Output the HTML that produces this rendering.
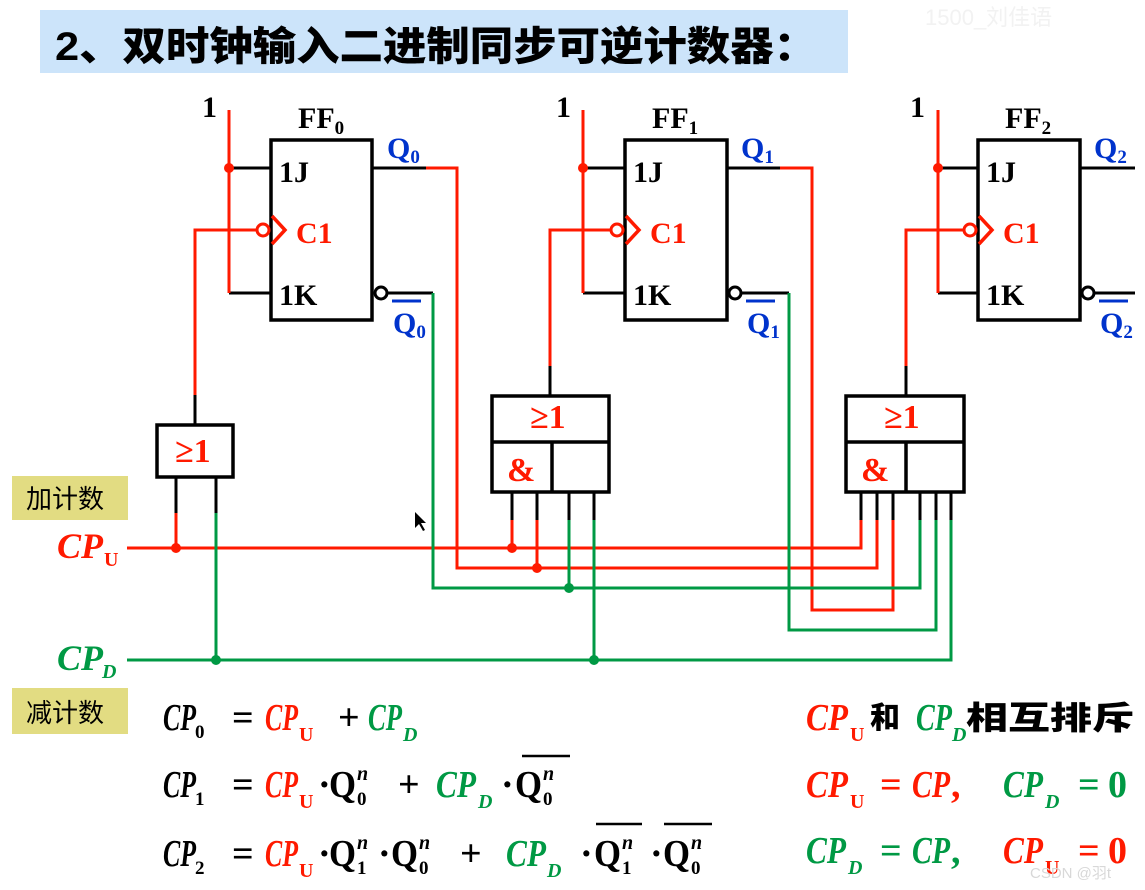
<!DOCTYPE html>
<html><head><meta charset="utf-8"><style>
html,body{margin:0;padding:0;background:#fff;width:1145px;height:890px;overflow:hidden}
svg{display:block}
.s{font-family:"Liberation Serif",serif;font-weight:bold}
.i{font-style:italic}
.cn{font-family:"Liberation Sans","Noto Sans CJK SC",sans-serif}
</style></head><body>
<svg width="1145" height="890" viewBox="0 0 1145 890" xmlns="http://www.w3.org/2000/svg">
<rect x="40" y="10" width="808" height="63" fill="#cce4fa"/>
<text x="55" y="60" class="cn" font-size="40" font-weight="900" textLength="762" lengthAdjust="spacingAndGlyphs">2、双时钟输入二进制同步可逆计数器：</text>
<text x="925" y="25" class="cn" font-size="22" fill="#f2f2f2">1500_刘佳语</text>

<g fill="none" stroke-width="3.5">
<rect x="271" y="140" width="101" height="180" stroke="#000"/>
<rect x="625" y="140" width="102" height="180" stroke="#000"/>
<rect x="978" y="140" width="102" height="180" stroke="#000"/>
</g>
<g class="s" font-size="30">
<text x="202" y="117">1</text><text x="556" y="117">1</text><text x="910" y="117">1</text>
<text x="298" y="128">FF<tspan font-size="19" dy="6">0</tspan></text>
<text x="652" y="128">FF<tspan font-size="19" dy="6">1</tspan></text>
<text x="1005" y="128">FF<tspan font-size="19" dy="6">2</tspan></text>
<text x="279" y="182">1J</text><text x="633" y="182">1J</text><text x="986" y="182">1J</text>
<text x="279" y="305">1K</text><text x="633" y="305">1K</text><text x="986" y="305">1K</text>
<g fill="#ff1a00"><text x="296" y="243">C1</text><text x="650" y="243">C1</text><text x="1003" y="243">C1</text></g>
<g fill="#0033cc">
<text x="387" y="158">Q<tspan font-size="19" dy="5">0</tspan></text>
<text x="741" y="158">Q<tspan font-size="19" dy="5">1</tspan></text>
<text x="1094" y="158">Q<tspan font-size="19" dy="5">2</tspan></text>
<text x="393" y="333">Q<tspan font-size="19" dy="5">0</tspan></text>
<text x="747" y="333">Q<tspan font-size="19" dy="5">1</tspan></text>
<text x="1100" y="333">Q<tspan font-size="19" dy="5">2</tspan></text>
</g>
</g>
<g stroke="#0033cc" stroke-width="3"><line x1="392" y1="301" x2="421" y2="301"/><line x1="746" y1="301" x2="775" y2="301"/><line x1="1099" y1="301" x2="1128" y2="301"/></g>

<g fill="none" stroke-width="3">
<g stroke="#000">
<line x1="229" y1="168" x2="271" y2="168"/><line x1="229" y1="293" x2="271" y2="293"/><line x1="229" y1="230" x2="257" y2="230"/>
<line x1="583" y1="168" x2="625" y2="168"/><line x1="583" y1="293" x2="625" y2="293"/><line x1="583" y1="230" x2="611" y2="230"/>
<line x1="938" y1="168" x2="978" y2="168"/><line x1="938" y1="293" x2="978" y2="293"/><line x1="938" y1="230" x2="964" y2="230"/>
<line x1="372" y1="168" x2="426" y2="168"/><line x1="387" y1="293" x2="433" y2="293"/>
<line x1="727" y1="168" x2="780" y2="168"/><line x1="741" y1="293" x2="789" y2="293"/>
<line x1="1080" y1="168" x2="1135" y2="168"/><line x1="1094" y1="293" x2="1135" y2="293"/>
<circle cx="381" cy="293" r="6"/><circle cx="735" cy="293" r="6"/><circle cx="1088" cy="293" r="6"/>
</g>
<g stroke="#ff1a00">
<line x1="229" y1="110" x2="229" y2="293"/><line x1="583" y1="110" x2="583" y2="293"/><line x1="938" y1="110" x2="938" y2="293"/>
<circle cx="263" cy="230" r="6"/><circle cx="617" cy="230" r="6"/><circle cx="970" cy="230" r="6"/>
<polyline points="272,216 285,230 272,244" stroke-width="3.5"/><polyline points="626,216 639,230 626,244" stroke-width="3.5"/><polyline points="979,216 992,230 979,244" stroke-width="3.5"/>
<polyline points="257,230 195,230 195,395"/><polyline points="611,230 550,230 550,366"/><polyline points="964,230 906,230 906,366"/>
</g>
</g>
<g fill="#ff1a00"><circle cx="229" cy="168" r="5"/><circle cx="583" cy="168" r="5"/><circle cx="938" cy="168" r="5"/></g>

<g fill="none" stroke="#000" stroke-width="3.5">
<rect x="157" y="425" width="76" height="52"/>
<rect x="492" y="396" width="117" height="96"/><line x1="492" y1="442" x2="609" y2="442"/><line x1="552" y1="442" x2="552" y2="492"/>
<rect x="846" y="396" width="118" height="96"/><line x1="846" y1="442" x2="964" y2="442"/><line x1="906" y1="442" x2="906" y2="492"/>
</g>
<g stroke="#000" stroke-width="3">
<line x1="195" y1="395" x2="195" y2="425"/><line x1="550" y1="366" x2="550" y2="396"/><line x1="906" y1="366" x2="906" y2="396"/>
<line x1="176" y1="477" x2="176" y2="513"/><line x1="216" y1="477" x2="216" y2="513"/>
<line x1="512" y1="492" x2="512" y2="520"/><line x1="537" y1="492" x2="537" y2="520"/><line x1="569" y1="492" x2="569" y2="520"/><line x1="594" y1="492" x2="594" y2="520"/>
<line x1="861" y1="492" x2="861" y2="520"/><line x1="877" y1="492" x2="877" y2="520"/><line x1="893" y1="492" x2="893" y2="520"/><line x1="920" y1="492" x2="920" y2="520"/><line x1="936" y1="492" x2="936" y2="520"/><line x1="951" y1="492" x2="951" y2="520"/>
</g>
<g class="s" font-size="34" fill="#ff1a00">
<text x="175" y="462">≥1</text><text x="530" y="428">≥1</text><text x="884" y="428">≥1</text>
<text x="507" y="481">&amp;</text><text x="861" y="481">&amp;</text>
</g>

<g fill="none" stroke-width="3">
<g stroke="#ff1a00">
<polyline points="127,548 861,548 861,520"/>
<line x1="176" y1="513" x2="176" y2="548"/><line x1="512" y1="520" x2="512" y2="548"/><line x1="537" y1="520" x2="537" y2="568"/>
<polyline points="426,168 457,168 457,568 877,568 877,520"/>
<polyline points="780,168 812,168 812,610 893,610 893,520"/>
</g>
<g stroke="#009944">
<polyline points="127,660 951,660 951,520"/>
<line x1="216" y1="513" x2="216" y2="660"/><line x1="594" y1="520" x2="594" y2="660"/><line x1="569" y1="520" x2="569" y2="588"/>
<polyline points="433,293 433,588 920,588 920,520"/>
<polyline points="789,293 789,630 936,630 936,520"/>
</g>
</g>
<g fill="#ff1a00"><circle cx="176" cy="548" r="5"/><circle cx="512" cy="548" r="5"/><circle cx="537" cy="568" r="5"/></g>
<g fill="#009944"><circle cx="216" cy="660" r="5"/><circle cx="569" cy="588" r="5"/><circle cx="594" cy="660" r="5"/></g>
<path d="M415 512 L415 528 L419 524 L423 531 L425 530 L421 523 L426 523 Z" fill="#000"/>

<rect x="12" y="476" width="116" height="44" fill="#e2dc82"/>
<text x="26" y="508" class="cn" font-size="26">加计数</text>
<rect x="12" y="688" width="116" height="46" fill="#e2dc82"/>
<text x="26" y="722" class="cn" font-size="26">减计数</text>
<text x="57" y="558" class="s i" font-size="36" fill="#ff1a00" textLength="46" lengthAdjust="spacingAndGlyphs">CP</text><text x="104" y="566" class="s" font-size="20" fill="#ff1a00">U</text>
<text x="57" y="670" class="s i" font-size="36" fill="#009944" textLength="46" lengthAdjust="spacingAndGlyphs">CP</text><text x="102" y="678" class="s i" font-size="20" fill="#009944">D</text>

<g class="s" font-size="38">
<text x="163" y="730" class="i" textLength="33" lengthAdjust="spacingAndGlyphs">CP</text><text x="195" y="738" font-size="19">0</text>
<text x="232" y="730">=</text>
<text x="265" y="730" class="i" fill="#ff1a00" textLength="33" lengthAdjust="spacingAndGlyphs">CP</text><text x="299" y="741" font-size="20" fill="#ff1a00">U</text>
<text x="338" y="730">+</text>
<text x="368" y="730" class="i" fill="#009944" textLength="34" lengthAdjust="spacingAndGlyphs">CP</text><text x="403" y="741" font-size="20" class="i" fill="#009944">D</text>

<text x="163" y="797" class="i" textLength="33" lengthAdjust="spacingAndGlyphs">CP</text><text x="195" y="805" font-size="19">1</text>
<text x="232" y="797">=</text>
<text x="265" y="797" class="i" fill="#ff1a00" textLength="33" lengthAdjust="spacingAndGlyphs">CP</text><text x="299" y="808" font-size="20" fill="#ff1a00">U</text>
<text x="318" y="797">·</text><text x="329" y="797" textLength="27" lengthAdjust="spacingAndGlyphs">Q</text><text x="357" y="780" font-size="20" class="i">n</text><text x="357" y="805" font-size="19">0</text>
<text x="398" y="797">+</text>
<text x="436" y="797" class="i" fill="#009944" textLength="40" lengthAdjust="spacingAndGlyphs">CP</text><text x="478" y="808" font-size="20" class="i" fill="#009944">D</text>
<text x="501" y="797">·</text><text x="515" y="797" textLength="27" lengthAdjust="spacingAndGlyphs">Q</text><text x="543" y="780" font-size="20" class="i">n</text><text x="543" y="805" font-size="19">0</text>

<text x="163" y="866" class="i" textLength="33" lengthAdjust="spacingAndGlyphs">CP</text><text x="195" y="874" font-size="19">2</text>
<text x="232" y="866">=</text>
<text x="265" y="866" class="i" fill="#ff1a00" textLength="33" lengthAdjust="spacingAndGlyphs">CP</text><text x="299" y="877" font-size="20" fill="#ff1a00">U</text>
<text x="318" y="866">·</text><text x="329" y="866" textLength="27" lengthAdjust="spacingAndGlyphs">Q</text><text x="357" y="849" font-size="20" class="i">n</text><text x="357" y="874" font-size="19">1</text>
<text x="378" y="866">·</text><text x="391" y="866" textLength="27" lengthAdjust="spacingAndGlyphs">Q</text><text x="419" y="849" font-size="20" class="i">n</text><text x="419" y="874" font-size="19">0</text>
<text x="460" y="866">+</text>
<text x="506" y="866" class="i" fill="#009944" textLength="40" lengthAdjust="spacingAndGlyphs">CP</text><text x="547" y="877" font-size="20" class="i" fill="#009944">D</text>
<text x="580" y="866">·</text><text x="594" y="866" textLength="27" lengthAdjust="spacingAndGlyphs">Q</text><text x="622" y="849" font-size="20" class="i">n</text><text x="622" y="874" font-size="19">1</text>
<text x="650" y="866">·</text><text x="663" y="866" textLength="27" lengthAdjust="spacingAndGlyphs">Q</text><text x="691" y="849" font-size="20" class="i">n</text><text x="691" y="874" font-size="19">0</text>
</g>
<g stroke="#000" stroke-width="2.5"><line x1="522" y1="756" x2="570" y2="756"/><line x1="596" y1="824" x2="642" y2="824"/><line x1="664" y1="824" x2="712" y2="824"/></g>

<g class="s" font-size="38">
<text x="806" y="730" class="i" fill="#ff1a00" textLength="42" lengthAdjust="spacingAndGlyphs">CP</text><text x="850" y="741" font-size="20" fill="#ff1a00">U</text>
<text x="870" y="728" class="cn" font-size="30" font-weight="900">和</text>
<text x="916" y="730" class="i" fill="#009944" textLength="36" lengthAdjust="spacingAndGlyphs">CP</text><text x="952" y="741" font-size="20" class="i" fill="#009944">D</text>
<text x="966" y="729" class="cn" font-size="32" font-weight="900" textLength="168" lengthAdjust="spacingAndGlyphs">相互排斥</text>

<text x="806" y="797" class="i" fill="#ff1a00" textLength="42" lengthAdjust="spacingAndGlyphs">CP</text><text x="850" y="808" font-size="20" fill="#ff1a00">U</text>
<text x="880" y="797" fill="#ff1a00">=</text><text x="912" y="797" class="i" fill="#ff1a00" textLength="38" lengthAdjust="spacingAndGlyphs">CP</text><text x="951" y="797" fill="#ff1a00">,</text>
<text x="1003" y="797" class="i" fill="#009944" textLength="40" lengthAdjust="spacingAndGlyphs">CP</text><text x="1045" y="808" font-size="20" class="i" fill="#009944">D</text>
<text x="1078" y="797" fill="#009944">=</text><text x="1108" y="797" fill="#009944">0</text>

<text x="806" y="863" class="i" fill="#009944" textLength="40" lengthAdjust="spacingAndGlyphs">CP</text><text x="848" y="874" font-size="20" class="i" fill="#009944">D</text>
<text x="880" y="863" fill="#009944">=</text><text x="912" y="863" class="i" fill="#009944" textLength="38" lengthAdjust="spacingAndGlyphs">CP</text><text x="951" y="863" fill="#009944">,</text>
<text x="1003" y="863" class="i" fill="#ff1a00" textLength="40" lengthAdjust="spacingAndGlyphs">CP</text><text x="1045" y="874" font-size="20" fill="#ff1a00">U</text>
<text x="1078" y="863" fill="#ff1a00">=</text><text x="1108" y="863" fill="#ff1a00">0</text>
</g>
<text x="1030" y="878" class="cn" font-size="15" fill="#d8d8d8">CSDN @羽t</text>
</svg>
</body></html>
